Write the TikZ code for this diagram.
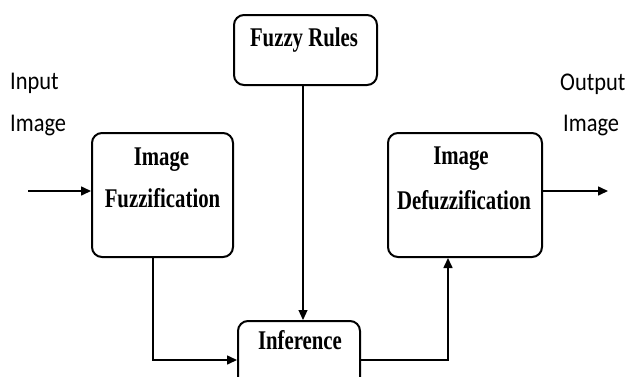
\documentclass[tikz,border=0pt]{standalone}
\usepackage{fontspec}
\usetikzlibrary{arrows.meta,calc}
\newfontfamily\boxfont[FakeStretch=0.77]{Liberation Serif}
\newfontfamily\labfont[FakeStretch=0.88]{Carlito}

\begin{document}
\begin{tikzpicture}[x=1pt,y=1pt,
  block/.style={draw, line width=2pt, rounded corners=10pt, inner sep=0pt},
  blocktext/.style={font=\boxfont\bfseries\fontsize{27}{32}\selectfont, inner sep=0pt, anchor=base},
  sidetext/.style={font=\labfont\fontsize{25.5}{30}\selectfont, inner sep=0pt, anchor=base west},
  flow/.style={line width=1.6pt, -{Triangle[length=10pt,width=9pt]}},
]
\useasboundingbox (0,0) rectangle (630,-376);
\fill[white] (0,0) rectangle (630,-376);
\begin{scope}
  \clip (0,0) rectangle (630,-376);

  % processing blocks
  \node[block, minimum width=143pt, minimum height=70pt]  (rules)  at (305.5,-50) {};
  \node[block, minimum width=141pt, minimum height=124pt] (fuzz)   at (162.5,-195) {};
  \node[block, minimum width=154pt, minimum height=124pt] (defuzz) at (465,-195) {};
  \node[block, minimum width=122pt, minimum height=78pt]  (infer)  at (299,-360) {};

  % block captions
  \node[blocktext] (rulesT)   at ($(rules.north)+(-1.5,-32)$)  {Fuzzy Rules};
  \node[blocktext] (fuzzT1)   at ($(fuzz.north)+(-1,-33)$)     {Image};
  \node[blocktext] (fuzzT2)   at ($(fuzz.north)+(0,-75)$)      {Fuzzification};
  \node[blocktext] (defuzzT1) at ($(defuzz.north)+(-4,-32)$)   {Image};
  \node[blocktext] (defuzzT2) at ($(defuzz.north)+(-1,-77)$)   {Defuzzification};
  \node[blocktext] (inferT)   at ($(infer.north)+(1,-29)$)     {Inference};

  % input / output labels
  \node[sidetext] (inL1)  at (10,-89)   {Input};
  \node[sidetext] (inL2)  at (10,-131)  {Image};
  \node[sidetext] (outL1) at (560,-90)  {Output};
  \node[sidetext] (outL2) at (563,-131) {Image};

  % connectors
  \coordinate (src) at (28,-191);
  \coordinate (dst) at (608,-191);
  \draw[flow] (src) -- (src -| fuzz.west);
  \draw[flow] (defuzz.east |- dst) -- (dst);
  \draw[flow, line width=1.2pt] ([xshift=-2.5pt]rules.south) -- ([xshift=-2.5pt]rules.south |- infer.north);
  \draw[flow] ([xshift=-9.5pt]fuzz.south) |- (infer.west);
  \draw[flow] (infer.east) -| ([xshift=-17pt]defuzz.south);
\end{scope}
\end{tikzpicture}
\end{document}
